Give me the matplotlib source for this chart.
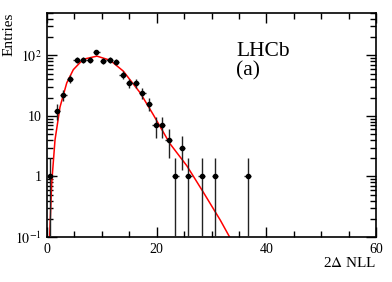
import numpy as np
import matplotlib
matplotlib.use("Agg")
import matplotlib.pyplot as plt
from matplotlib.ticker import FixedLocator, FuncFormatter, LogLocator, MultipleLocator

plt.rcParams['font.family'] = ['Liberation Serif', 'DejaVu Serif']
plt.rcParams['mathtext.fontset'] = 'stix'

# histogram of 2 Delta NLL (bin width 1.2), empty bins left out
bin_centers = [0.6, 1.8, 3.0, 4.2, 5.4, 6.6, 7.8, 9.0, 10.2, 11.4, 12.6, 13.8, 15.0,
               16.2, 17.4, 18.6, 19.8, 21.0, 22.2, 23.4, 24.6, 25.8, 28.2, 30.6, 36.6]
entries = [1, 12, 22, 41, 85, 83, 85, 112, 80, 83, 77, 48, 35,
           35, 24, 16, 7, 7, 4, 1, 3, 1, 1, 1, 1]
half_bin = 0.6

# fitted curve
fit_x = [0.3, 0.48, 0.85, 1.46, 2.37, 3.6, 4.8, 6.6, 9.1, 11.5, 13.9,
         17.0, 19.4, 22.4, 25.5, 28.5, 31.6, 33.3, 34.0]
fit_y = [0.03, 0.1, 0.76, 4.0, 14.0, 35.0, 58.0, 86.0, 97.0, 83.0, 55.0,
         24.0, 10.4, 3.5, 1.5, 0.55, 0.19, 0.1, 0.08]

fig = plt.figure(figsize=(3.92, 2.82), dpi=100)
ax = fig.add_axes([47 / 392, 45 / 282, 329 / 392, 224 / 282])

ax.set_yscale('log', nonpositive='clip')
ax.plot(fit_x, fit_y, color='red', lw=1.1, zorder=2)

n = np.asarray(entries, dtype=float)
err = np.sqrt(n)
low = np.minimum(err, n - 1e-4)
ax.errorbar(bin_centers, entries, yerr=[low, err], xerr=half_bin, fmt='o',
            color='black', ecolor='#222222', ms=3, elinewidth=1, capsize=0, zorder=3)

ax.set_xlim(0, 60)
ax.set_ylim(0.1, 500)

ax.xaxis.set_major_locator(MultipleLocator(20))
ax.xaxis.set_minor_locator(MultipleLocator(5))
ax.yaxis.set_major_locator(FixedLocator([0.1, 1, 10, 100]))
ax.yaxis.set_minor_locator(LogLocator(base=10, subs=np.arange(2, 10)))
ax.yaxis.set_minor_formatter(FuncFormatter(lambda v, p: ''))

ylabels = {0.1: r'$10^{-1}$', 1: '1', 10: '10', 100: r'$10^{2}$'}
ax.yaxis.set_major_formatter(FuncFormatter(
    lambda v, p: ylabels.get(round(v, 3), '')))

ax.tick_params(which='both', direction='in', top=True, right=True,
               labelsize=10, width=1)
ax.tick_params(which='major', length=7, pad=4)
ax.tick_params(which='minor', length=4)
for s in ax.spines.values():
    s.set_linewidth(1.2)

fig.text(9 / 392, 1 - 13 / 282, 'Entries', rotation=90, ha='center', va='top', fontsize=11)
fig.text(376 / 392, 1 - 256 / 282, r'2$\Delta$ NLL', ha='right', va='top', fontsize=11)

ax.text(236 / 392, 1 - 56 / 282, 'LHCb', transform=fig.transFigure, fontsize=15.5,
        ha='left', va='baseline')
ax.text(236 / 392, 1 - 75 / 282, '(a)', transform=fig.transFigure, fontsize=15.5,
        ha='left', va='baseline')

fig.savefig('out.png', dpi=100)
